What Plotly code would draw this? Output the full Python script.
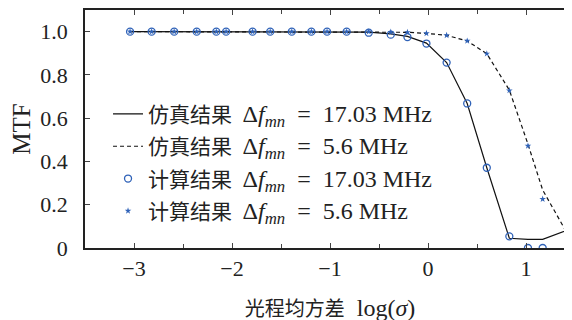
import plotly.graph_objects as go

x_vals = [-3.04, -2.82, -2.59, -2.36, -2.16, -2.06, -1.79, -1.61, -1.39, -1.19, -1.03, -0.83,
          -0.605, -0.38, -0.21, -0.016, 0.19, 0.40, 0.60, 0.83, 1.02, 1.17, 1.44]
sim_17 = [1, 1, 1, 1, 1, 1, 1, 1, 1, 1, 1, 1,
          0.998, 0.99, 0.978, 0.947, 0.857, 0.668, 0.371, 0.045, 0.04, 0.04, 0.086]
sim_56 = [1, 1, 1, 1, 1, 1, 1, 1, 1, 1, 1, 1,
          1.0, 0.998, 0.997, 0.992, 0.983, 0.957, 0.898, 0.73, 0.48, 0.268, 0.052]
calc_17 = [1, 1, 1, 1, 1, 1, 1, 1, 1, 1, 1, 1,
           0.995, 0.986, 0.975, 0.945, 0.857, 0.668, 0.371, 0.054, 0.0, 0.0, 0.0]
calc_56 = [1, 1, 1, 1, 1, 1, 1, 1, 1, 1, 1, 1,
           1.0, 0.998, 0.997, 0.992, 0.983, 0.957, 0.898, 0.728, 0.472, 0.226, 0.0]

cj = '<span style="font-size:21px">{}</span>'
lat = '<span style="font-size:24px">{}</span>'
math = "Δ<i>f</i><sub><i>mn</i></sub>&nbsp; = &nbsp;"
names = [cj.format("仿真结果") + "  " + lat.format(math + "17.03&nbsp;MHz"),
         cj.format("仿真结果") + "  " + lat.format(math + "5.6&nbsp;MHz"),
         cj.format("计算结果") + "  " + lat.format(math + "17.03&nbsp;MHz"),
         cj.format("计算结果") + "  " + lat.format(math + "5.6&nbsp;MHz")]

y_tickvals = [0, 0.2, 0.4, 0.6, 0.8, 1.0]
y_ticktext = ["0", "0.2", "0.4", "0.6", "0.8", "1.0"]
x_tickvals = [-3, -2, -1, 0, 1]

blue = "#2f62b8"
font_family = "Liberation Serif, Noto Sans CJK SC, serif"

fig = go.Figure()
fig.add_trace(go.Scatter(x=x_vals, y=sim_17, mode="lines", name=names[0],
                         line=dict(color="#111", width=1.2), legendgroup="a"))
fig.add_trace(go.Scatter(x=x_vals, y=sim_56, mode="lines", name=names[1],
                         line=dict(color="#111", width=1.2, dash="4px,3px"), legendgroup="b"))
fig.add_trace(go.Scatter(x=x_vals, y=calc_17, mode="markers", name=names[2],
                         marker=dict(symbol="circle-open", size=7, color=blue,
                                     line=dict(width=1.3, color=blue)), legendgroup="c"))
fig.add_trace(go.Scatter(x=x_vals, y=calc_56, mode="markers", name=names[3],
                         marker=dict(symbol="star", size=5, color=blue), legendgroup="d"))

fig.update_layout(
    width=572, height=320,
    margin=dict(l=77, r=5, t=2, b=80),
    paper_bgcolor="white", plot_bgcolor="white",
    font=dict(family=font_family, size=22, color="#222"),
    legend=dict(x=0.047, y=0.648, xanchor="left", yanchor="top",
                bgcolor="rgba(0,0,0,0)", font=dict(size=21),
                tracegroupgap=2, itemwidth=30),
    xaxis=dict(range=[-3.5, 1.5], tickvals=x_tickvals, ticks="inside", ticklen=5,
               showline=True, linecolor="#222", linewidth=1.5, mirror="ticks",
               showgrid=False, zeroline=False, automargin=False, ticklabelstandoff=0,
               minor=dict(dtick=0.5, tick0=0, ticks="inside", ticklen=4, showgrid=False),
               title=dict(text="<span style=\"font-size:20px\">光程均方差</span>  log(<i>σ</i>)",
                          standoff=19, font=dict(size=24))),
    yaxis=dict(range=[0, 1.1], tickvals=y_tickvals, ticktext=y_ticktext, ticks="inside",
               ticklen=5, showline=True, linecolor="#222", linewidth=1.5,
               showgrid=False, zeroline=False, automargin=False, ticklabelstandoff=11,
               title=dict(text="MTF", standoff=13, font=dict(size=25))),
)

fig.write_html("out.html")
